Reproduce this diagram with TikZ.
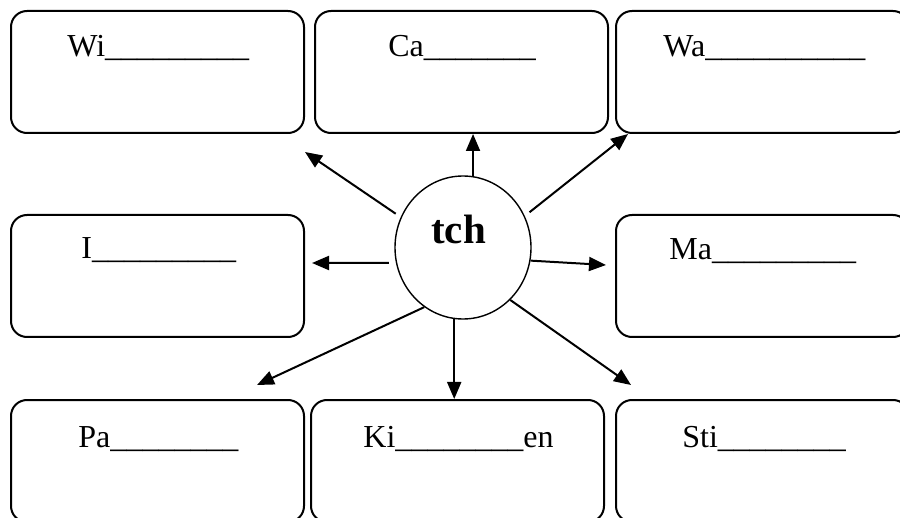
\documentclass[tikz,border=0pt]{standalone}
\usepackage{fontspec}
\setmainfont{Liberation Serif}
\usetikzlibrary{shapes.geometric,arrows.meta}
\tikzset{
  x=0.5pt, y=-0.5pt,
  box/.style={draw, line width=1pt, rounded corners=8pt, rectangle,
    minimum width=146.5pt, minimum height=61pt, inner sep=0pt},
  lbl/.style={anchor=base west, inner sep=0pt, font=\fontsize{16}{19}\selectfont},
  hub/.style={draw, line width=0.7pt, ellipse, minimum width=68pt, minimum height=71.5pt, inner sep=0pt},
  arr/.style={line width=1pt, -{Triangle[length=8.5pt,width=7pt]}}
}
\begin{document}
\begin{tikzpicture}
\useasboundingbox (0,0) rectangle (900,518);
\clip (0,0) rectangle (900,518);
% boxes
\node[box] (Wi) at (157.5,72) {};
\node[box] (Ca) at (461.5,72) {};
\node[box] (Wa) at (762.5,72) {};
\node[box] (I)  at (157.5,276) {};
\node[box] (Ma) at (762.5,276) {};
\node[box] (Pa) at (157.5,461) {};
\node[box] (Ki) at (457.5,461) {};
\node[box] (Sti) at (762.5,461) {};
% labels
\node[lbl] (lWi) at (67,57) {Wi\_\_\_\_\_\_\_\_\_};
\node[lbl] (lCa) at (388,57) {Ca\_\_\_\_\_\_\_};
\node[lbl] (lWa) at (663,57) {Wa\_\_\_\_\_\_\_\_\_\_};
\node[lbl] (lI) at (81,259) {I\_\_\_\_\_\_\_\_\_};
\node[lbl] (lMa) at (669,260) {Ma\_\_\_\_\_\_\_\_\_};
\node[lbl] (lPa) at (78,447) {Pa\_\_\_\_\_\_\_\_};
\node[lbl] (lKi) at (363,447) {Ki\_\_\_\_\_\_\_\_en};
\node[lbl] (lSti) at (682,447) {Sti\_\_\_\_\_\_\_\_};
% hub
\node[hub] (c) at (463,247.5) {};
\node[anchor=base, inner sep=0pt, font=\fontsize{20.5}{24}\selectfont\bfseries] (tch) at (458.5,244) {tch};
% tip coordinates
\coordinate (tWi) at (305,152);
\coordinate (tWa) at (628,134);
\coordinate (tI) at (312,263);
\coordinate (tMa) at (606,265);
\coordinate (tPa) at (257,385);
\coordinate (tSti) at (631,385);
% arrows
\draw[arr, shorten <=3pt] (c.154) -- (tWi);
\draw[arr] (c.82) -- (c.82 |- Ca.south);
\draw[arr, shorten <=3pt] (c.27) -- (tWa);
\draw[arr, shorten <=3.5pt] (c.193) -- (tI);
\draw[arr] (c.349) -- (tMa);
\draw[arr] (c.237.6) -- (tPa);
\draw[arr] (c.263.6) -- (c.263.6 |- Ki.north);
\draw[arr] (c.312) -- (tSti);
\end{tikzpicture}
\end{document}
